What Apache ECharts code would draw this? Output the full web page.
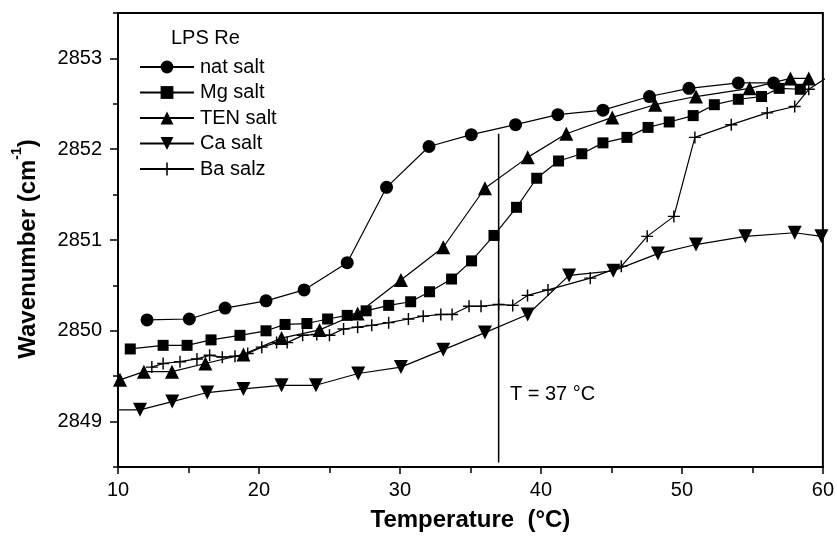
<!DOCTYPE html>
<html>
<head>
<meta charset="utf-8">
<script src="https://cdn.jsdelivr.net/npm/echarts@6/dist/echarts.min.js"></script>
<style>
  html, body { margin: 0; padding: 0; background: #fff; }
  #chart { width: 837px; height: 537px; }
</style>
</head>
<body>
<div id="chart"></div>
<script>
// Temperature (°C), wavenumber (cm-1) pairs
var natSalt = [[12.06,2850.12],[15.06,2850.13],[17.6,2850.25],[20.5,2850.33],[23.2,2850.45],[26.26,2850.75],
  [29.05,2851.58],[32.06,2852.03],[35.06,2852.16],[38.2,2852.27],[41.2,2852.38],[44.4,2852.43],
  [47.7,2852.58],[50.5,2852.67],[54.0,2852.73],[56.5,2852.73]];
var mgSalt = [[10.87,2849.80],[13.2,2849.84],[14.9,2849.84],[16.6,2849.90],[18.65,2849.95],[20.5,2850.0],
  [21.85,2850.07],[23.4,2850.08],[24.87,2850.13],[26.26,2850.17],[27.6,2850.22],[29.2,2850.28],
  [30.76,2850.32],[32.1,2850.43],[33.66,2850.57],[35.08,2850.77],[36.67,2851.05],[38.27,2851.36],
  [39.7,2851.68],[41.25,2851.87],[42.9,2851.95],[44.4,2852.07],[46.1,2852.13],[47.6,2852.24],
  [49.1,2852.30],[50.8,2852.37],[52.3,2852.49],[54.0,2852.55],[55.65,2852.58],[56.9,2852.67],[58.4,2852.66]];
var tenSalt = [[10.14,2849.46],[11.84,2849.55],[13.83,2849.55],[16.2,2849.64],[18.9,2849.74],[21.6,2849.92],
  [24.3,2850.01],[27.0,2850.19],[30.07,2850.56],[33.07,2850.92],[36.03,2851.57],[39.06,2851.91],
  [41.8,2852.17],[45.06,2852.35],[48.1,2852.49],[51.0,2852.58],[54.8,2852.67],[57.7,2852.78],[59.0,2852.78]];
var caSalt = [[9.6,2849.13],[11.56,2849.13],[13.85,2849.22],[16.33,2849.32],[18.9,2849.36],[21.6,2849.40],
  [24.04,2849.40],[27.04,2849.53],[30.07,2849.60],[33.07,2849.79],[36.03,2849.98],[39.06,2850.18],
  [42.0,2850.61],[45.13,2850.66],[48.3,2850.85],[51.0,2850.95],[54.5,2851.04],[58.0,2851.08],[59.9,2851.04]];
var baSalz = [[12.4,2849.60],[13.2,2849.64],[14.4,2849.66],[15.6,2849.69],[16.5,2849.73],[17.4,2849.71],
  [18.3,2849.72],[19.2,2849.75],[20.2,2849.82],[21.25,2849.87],[22.0,2849.87],[23.1,2849.95],
  [24.1,2849.96],[25.0,2849.95],[26.0,2850.02],[27.0,2850.04],[28.0,2850.06],[29.2,2850.09],
  [30.6,2850.13],[31.65,2850.16],[32.9,2850.18],[33.7,2850.18],[34.9,2850.27],[35.75,2850.27],
  [37.0,2850.29],[38.0,2850.28],[39.05,2850.39],[40.5,2850.45],[43.5,2850.58],[45.7,2850.71],
  [47.54,2851.04],[49.43,2851.26],[50.92,2852.13],[53.5,2852.27],[56.05,2852.40],[58.0,2852.47],
  [59.0,2852.66],[60.4,2852.8]];
var bodyTempLine = [[37,2852.17],[37,2848.55]];
var bodyTempLabel = [[37.8,2849.3]];
var legendNames = ['nat salt', 'Mg salt', 'TEN salt', 'Ca salt', 'Ba salz'];
var yMajorTicks = [2849, 2850, 2851, 2852, 2853];
var yMinorTicks = [2848.5, 2849.5, 2850.5, 2851.5, 2852.5, 2853.5];

var FONT = 'Liberation Sans, Arial, Helvetica, sans-serif';
var downTri = 'path://M0,0 L10,0 L5,8.8 Z';
var plus = 'path://M4.4,0 H5.6 V4.4 H10 V5.6 H5.6 V10 H4.4 V5.6 H0 V4.4 H4.4 Z';

function salt(name, data, symbol, size) {
  return {
    name: name, type: 'line', data: data,
    symbol: symbol, symbolSize: size, showAllSymbol: true,
    lineStyle: { color: '#000', width: 1.2 },
    itemStyle: { color: '#000' },
    animation: false, clip: true
  };
}

var chart = echarts.init(document.getElementById('chart'));
chart.setOption({
  backgroundColor: '#fff',
  textStyle: { fontFamily: FONT },
  title: {
    text: 'LPS Re', left: 166, top: 23,
    textStyle: { fontFamily: FONT, fontSize: 20, fontWeight: 'normal', color: '#000' }
  },
  legend: {
    data: legendNames, orient: 'vertical', left: 134, top: 52,
    itemWidth: 54, itemHeight: 16, itemGap: 5.5,
    textStyle: { fontFamily: FONT, fontSize: 20, color: '#000', padding: [0, 0, 0, 1] }
  },
  grid: { left: 118, right: 14, top: 13, bottom: 66, show: true, borderColor: '#000', borderWidth: 2 },
  xAxis: {
    type: 'value', min: 10, max: 60, interval: 10,
    name: 'Temperature  (°C)', nameLocation: 'middle', nameGap: 41,
    nameTextStyle: { fontFamily: FONT, fontSize: 24, fontWeight: 'bold', color: '#000' },
    axisLine: { lineStyle: { color: '#000', width: 2 } },
    axisTick: { inside: false, length: 7, lineStyle: { color: '#000', width: 1.5 } },
    minorTick: { show: true, splitNumber: 2, length: 6, lineStyle: { color: '#000', width: 1.5 } },
    axisLabel: { margin: 13, fontSize: 20, color: '#000', fontFamily: FONT },
    splitLine: { show: false }
  },
  yAxis: [{
    type: 'value', min: 2848.5, max: 2853.5,
    name: '{b|Wavenumber (cm}{s|-1}{b|)}', nameLocation: 'middle', nameGap: 78, nameRotate: 90,
    nameTextStyle: {
      padding: [0, 18, 0, 0],
      rich: {
        b: { fontFamily: FONT, fontSize: 24, fontWeight: 'bold', color: '#000', lineHeight: 30, verticalAlign: 'bottom' },
        s: { fontFamily: FONT, fontSize: 14, fontWeight: 'bold', color: '#000', lineHeight: 30, verticalAlign: 'top' }
      }
    },
    axisLine: { show: true, lineStyle: { color: '#000', width: 2 } },
    axisTick: { show: true, inside: false, length: 8, customValues: yMajorTicks, lineStyle: { color: '#000', width: 1.5 } },
    axisLabel: {
      margin: 16, fontSize: 20, color: '#000', fontFamily: FONT, customValues: yMajorTicks,
      formatter: function (v) { return String(v); }
    },
    splitLine: { show: false }
  }, {
    type: 'value', min: 2848.5, max: 2853.5, position: 'left',
    axisLine: { show: false },
    axisTick: { show: true, inside: false, length: 5, customValues: yMinorTicks, lineStyle: { color: '#000', width: 1.5 } },
    axisLabel: { show: false },
    splitLine: { show: false }
  }],
  series: [
    salt('nat salt', natSalt, 'circle', 13),
    salt('Mg salt', mgSalt, 'rect', 11),
    salt('TEN salt', tenSalt, 'triangle', 14),
    salt('Ca salt', caSalt, downTri, 14),
    salt('Ba salz', baSalz, plus, 12),
    {
      name: 'T37', type: 'line', data: bodyTempLine, symbol: 'none',
      lineStyle: { color: '#000', width: 1.5 }, animation: false, silent: true
    },
    {
      name: 'T37label', type: 'scatter', data: bodyTempLabel, symbolSize: 0,
      itemStyle: { color: '#000', opacity: 1 }, animation: false, silent: true,
      label: {
        show: true, position: 'right', distance: 0, formatter: 'T = 37 °C',
        fontFamily: FONT, fontSize: 20, color: '#000', opacity: 1
      }
    }
  ]
});
</script>
</body>
</html>
